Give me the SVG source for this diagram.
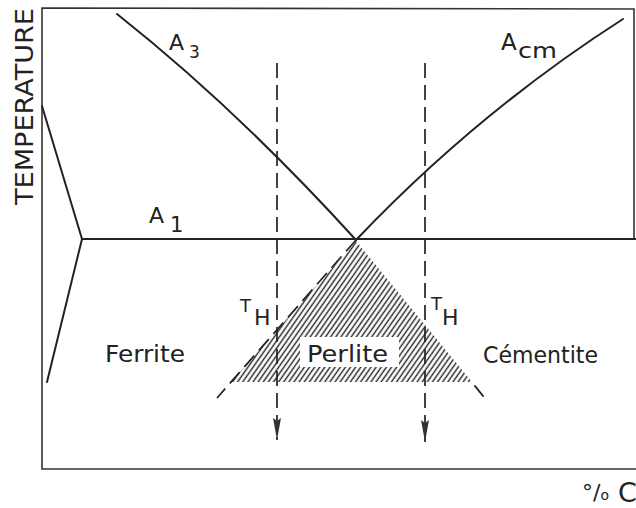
<svg xmlns="http://www.w3.org/2000/svg" width="636" height="508" viewBox="0 0 636 508">
  <defs>
    <style>
      .ln { fill: none; stroke: #222; stroke-width: 2; stroke-linecap: round; stroke-linejoin: round; }
      .fr { fill: none; stroke: #333; stroke-width: 1.6; }
      .dash { fill: none; stroke: #222; stroke-width: 1.7; stroke-dasharray: 15 7; }
      .t { font-family: "DejaVu Sans", "Liberation Sans", sans-serif; fill: #222; }
    </style>
    <pattern id="hatch" patternUnits="userSpaceOnUse" width="4.2" height="6" patternTransform="rotate(35)">
      <line x1="2.1" y1="-1" x2="2.1" y2="7" stroke="#222" stroke-width="1.4"/>
    </pattern>
    <clipPath id="tri">
      <polygon points="356,241 472,382 231,382"/>
    </clipPath>
    <marker id="arr" viewBox="0 0 22 8" refX="22" refY="4" markerWidth="22" markerHeight="8" markerUnits="userSpaceOnUse" orient="auto">
      <path d="M0,0 L22,4 L0,8 L3,4 z" fill="#333"/>
    </marker>
  </defs>
  <rect width="636" height="508" fill="#fff"/>

  <g id="frame">
    <polyline class="fr" points="634,239 634,9 42,8 42,469 636,469"/>
  </g>

  <g id="perlite-region">
    <rect x="220" y="235" width="260" height="150" fill="url(#hatch)" clip-path="url(#tri)"/>
    <rect x="300" y="337" width="99" height="30" fill="#fff"/>
    <line class="dash" x1="356" y1="240" x2="217" y2="398" stroke-dasharray="14 6"/>
    <line class="ln" x1="475" y1="386" x2="483" y2="396"/>
  </g>

  <g id="phase-lines">
    <polyline class="ln" points="42,106 82,239 47,382"/>
    <line class="ln" x1="82" y1="239" x2="636" y2="239"/>
    <path class="ln" d="M117,14 Q236,108 356,240"/>
    <path class="ln" d="M356,240 Q478,112 623,19"/>
  </g>

  <g id="connectors">
    <line class="dash" x1="277" y1="63" x2="277" y2="440" marker-end="url(#arr)"/>
    <line class="dash" x1="425" y1="63" x2="425" y2="442" marker-end="url(#arr)"/>
  </g>

  <g id="labels">
    <text class="t" font-size="24" transform="translate(33,205) rotate(-90)" textLength="197" lengthAdjust="spacingAndGlyphs">TEMPERATURE</text>
    <text class="t" x="169" y="50" font-size="22">A</text>
    <text class="t" x="189" y="58" font-size="17">3</text>
    <text class="t" x="501" y="50" font-size="23">A</text>
    <text class="t" x="518" y="58" font-size="22" textLength="39" lengthAdjust="spacingAndGlyphs">cm</text>
    <text class="t" x="149" y="223" font-size="22">A</text>
    <text class="t" x="170" y="232" font-size="21">1</text>
    <text class="t" x="240" y="312" font-size="18">T</text>
    <text class="t" x="254" y="325" font-size="22">H</text>
    <text class="t" x="431" y="310" font-size="18">T</text>
    <text class="t" x="442" y="325" font-size="22">H</text>
    <text class="t" x="105" y="362" font-size="23" textLength="80" lengthAdjust="spacingAndGlyphs">Ferrite</text>
    <text class="t" x="307" y="362" font-size="23" textLength="81" lengthAdjust="spacingAndGlyphs">Perlite</text>
    <text class="t" x="483" y="363" font-size="23" textLength="115" lengthAdjust="spacingAndGlyphs">Cémentite</text>
    <text class="t" x="582" y="500" font-size="22">°/<tspan font-size="14">o</tspan></text>
    <text class="t" x="618" y="502" font-size="27">C</text>
  </g>
</svg>
